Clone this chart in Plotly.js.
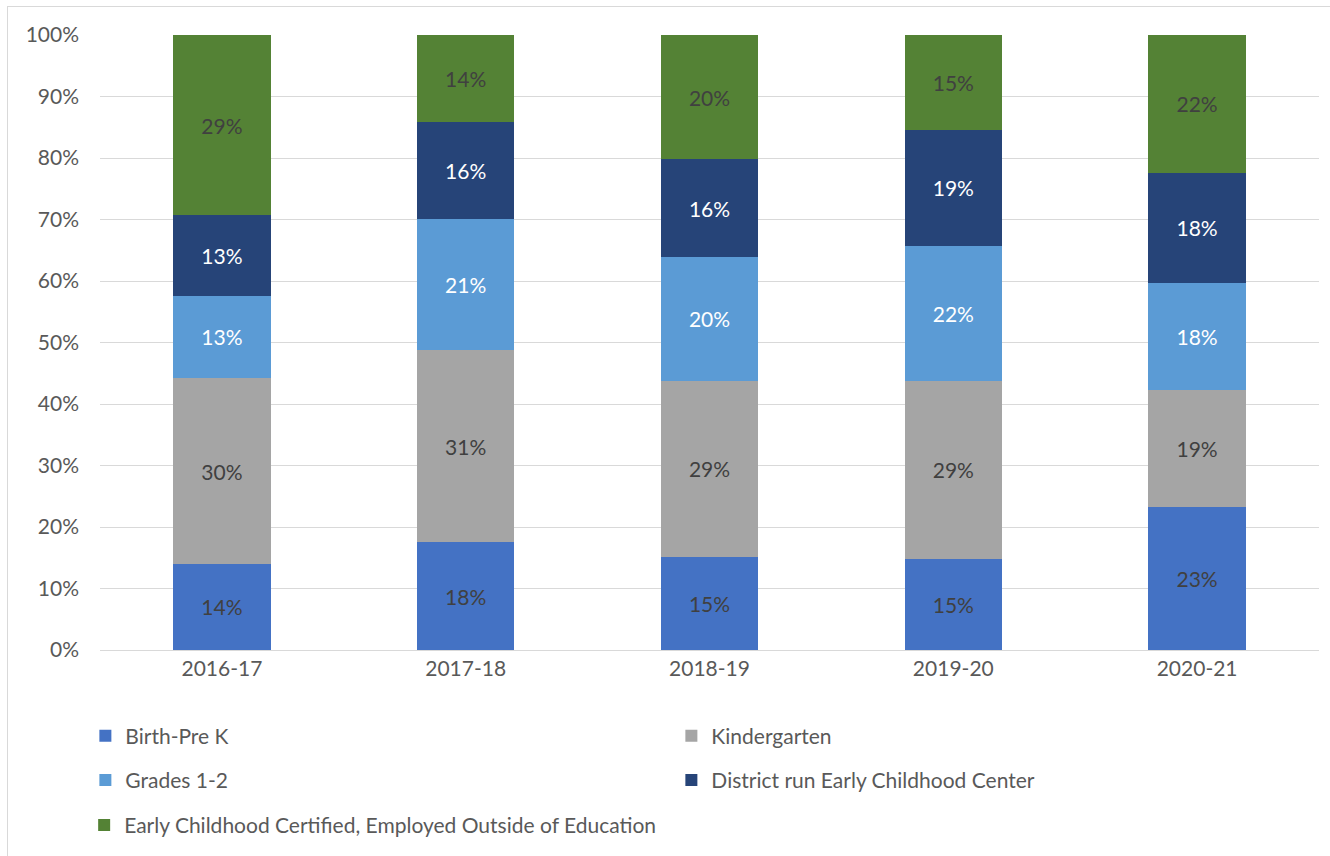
<!DOCTYPE html>
<html>
<head>
<meta charset="utf-8">
<script src="https://cdn.plot.ly/plotly-3.0.1.min.js"></script>
<style>
html,body{margin:0;padding:0;background:#fff;}
#chart{width:1330px;height:856px;}
#frame{position:absolute;left:7px;top:6px;width:1400px;height:900px;border:1px solid #d9d9d9;pointer-events:none;}
</style>
</head>
<body>
<div id="chart"></div>
<div id="frame"></div>
<script>
const years = ["2016-17", "2017-18", "2018-19", "2019-20", "2020-21"];
const birthPreK = [14.0, 17.5, 15.1, 14.8, 23.2];
const kindergarten = [30.2, 31.3, 28.7, 29.0, 19.0];
const grades12 = [13.4, 21.3, 20.1, 21.9, 17.5];
const districtCenter = [13.1, 15.7, 15.9, 18.9, 17.9];
const outsideEducation = [29.3, 14.2, 20.2, 15.4, 22.4];

const names = ["Birth-Pre K", "Kindergarten", "Grades 1-2", "District run Early Childhood Center", "Early Childhood Certified, Employed Outside of Education"];
const series = [birthPreK, kindergarten, grades12, districtCenter, outsideEducation];
const colors = ["#4472c4", "#a5a5a5", "#5b9bd5", "#264478", "#548235"];
const textColors = ["#404040", "#404040", "#ffffff", "#ffffff", "#404040"];
const legendIds = ["legend", "legend", "legend2", "legend2", "legend3"];
const FONT = "Lato, 'Open Sans', sans-serif";
const FS = 21;

const traces = series.map((vals, i) => ({
  type: "bar",
  name: names[i],
  x: years,
  y: vals,
  marker: {color: colors[i], line: {width: 0}},
  text: vals.map(v => Math.round(v) + "%"),
  textposition: "inside",
  insidetextanchor: "middle",
  textangle: 0,
  textfont: {family: FONT, size: FS, color: textColors[i]},
  hoverinfo: "x+y+name",
  legend: legendIds[i]
}));

function legendCfg(x, y) {
  return {
    orientation: "h", x: x, xanchor: "left", y: y, yanchor: "middle",
    entrywidth: 541, entrywidthmode: "pixels",
    font: {family: FONT, size: FS, color: "#595959"},
    traceorder: "normal", bgcolor: "rgba(0,0,0,0)", itemclick: false
  };
}

const layout = {
  width: 1330, height: 856,
  margin: {l: 100, r: 11, t: 35, b: 205},
  paper_bgcolor: "#ffffff", plot_bgcolor: "#ffffff",
  barmode: "stack",
  bargap: 0.6,
  showlegend: true,
  font: {family: FONT, color: "#595959", size: FS},
  xaxis: {
    type: "category", showgrid: false, zeroline: false,
    showline: true, linecolor: "#d9d9d9", linewidth: 1,
    ticks: "", tickfont: {family: FONT, size: FS, color: "#595959"}
  },
  yaxis: {
    range: [0, 100], dtick: 10, ticksuffix: "%",
    showgrid: true, gridcolor: "#d9d9d9", gridwidth: 1,
    zeroline: false, showline: false, ticks: "",
    ticklabelstandoff: 20,
    tickfont: {family: FONT, size: FS, color: "#595959"}
  },
  legend: legendCfg(-0.012, -0.138),
  legend2: legendCfg(-0.012, -0.21),
  legend3: legendCfg(-0.013, -0.283)
};

Plotly.newPlot("chart", traces, layout, {displayModeBar: false, staticPlot: true});
</script>
</body>
</html>
